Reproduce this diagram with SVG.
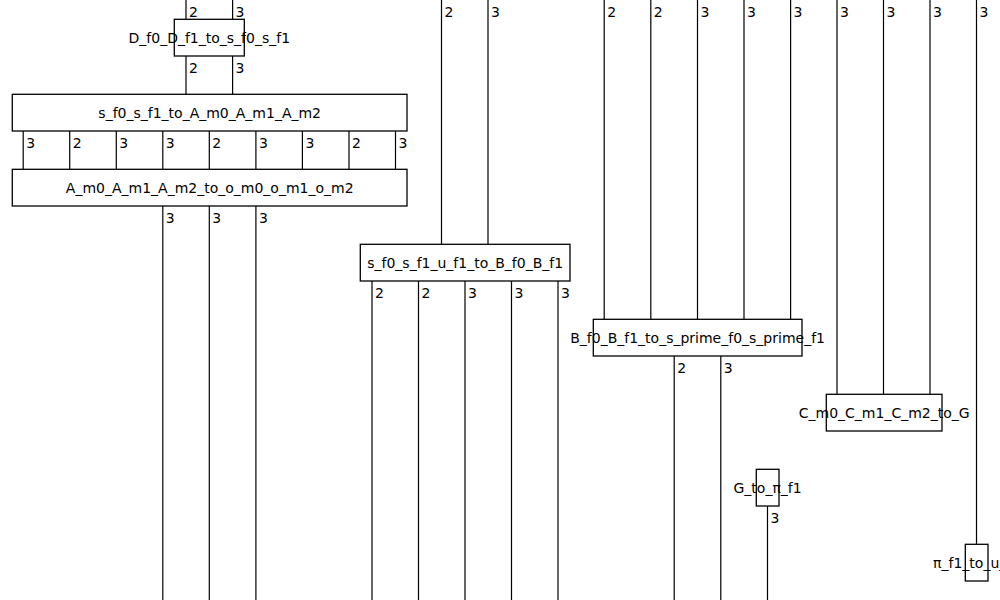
<svg xmlns="http://www.w3.org/2000/svg" width="1000" height="600" viewBox="0 0 1000 600">
<style>
.w{stroke:#000;stroke-width:1.2;fill:none}
.b{fill:#fff;stroke:#000;stroke-width:1.3}
.t{font-family:"DejaVu Sans",sans-serif;font-size:14px;fill:#000;text-anchor:middle}
.n{font-family:"DejaVu Sans",sans-serif;font-size:14px;fill:#000}
</style>
<rect width="1000" height="600" fill="#fff"/>
<g id="wires">
<path class="w" d="M186,0V19.3M232.6,0V19.3M186,56V94M232.6,56V94"/>
<path class="w" d="M23.2,131V169M69.7,131V169M116.3,131V169M162.8,131V169M209.3,131V169M255.9,131V169M302.4,131V169M349,131V169M395.5,131V169"/>
<path class="w" d="M162.8,206V600M209.3,206V600M255.9,206V600"/>
<path class="w" d="M441.5,0V244M488,0V244"/>
<path class="w" d="M372,281V600M418.5,281V600M465,281V600M511.5,281V600M558,281V600"/>
<path class="w" d="M604.2,0V319M650.8,0V319M697.5,0V319M744,0V319M790.6,0V319"/>
<path class="w" d="M674.2,356V600M720.8,356V600"/>
<path class="w" d="M837,0V394M883.5,0V394M930,0V394"/>
<path class="w" d="M767.5,506V600"/>
<path class="w" d="M976.5,0V544"/>
<g class="n">
<text x="189" y="16.7">2</text><text x="235.6" y="16.7">3</text>
<text x="189" y="72.7">2</text><text x="235.6" y="72.7">3</text>
<text x="26.2" y="147.7">3</text><text x="72.7" y="147.7">2</text><text x="119.3" y="147.7">3</text><text x="165.8" y="147.7">3</text><text x="212.3" y="147.7">2</text><text x="258.9" y="147.7">3</text><text x="305.4" y="147.7">3</text><text x="352" y="147.7">2</text><text x="398.5" y="147.7">3</text>
<text x="165.8" y="222.7">3</text><text x="212.3" y="222.7">3</text><text x="258.9" y="222.7">3</text>
<text x="444.5" y="16.7">2</text><text x="491" y="16.7">3</text>
<text x="375" y="297.7">2</text><text x="421.5" y="297.7">2</text><text x="468" y="297.7">3</text><text x="514.5" y="297.7">3</text><text x="561" y="297.7">3</text>
<text x="607.2" y="16.7">2</text><text x="653.8" y="16.7">2</text><text x="700.5" y="16.7">3</text><text x="747" y="16.7">3</text><text x="793.6" y="16.7">3</text>
<text x="677.2" y="372.7">2</text><text x="723.8" y="372.7">3</text>
<text x="840" y="16.7">3</text><text x="886.5" y="16.7">3</text><text x="933" y="16.7">3</text>
<text x="770.5" y="522.7">3</text>
<text x="979.5" y="16.7">3</text>
</g>
</g>
<g id="D_f0_D_f1_to_s_f0_s_f1"><rect class="b" x="174.3" y="19.3" width="70" height="36.7"/><text class="t" x="209.3" y="42.7">D_f0_D_f1_to_s_f0_s_f1</text></g>
<g id="s_f0_s_f1_to_A_m0_A_m1_A_m2"><rect class="b" x="12.3" y="94.3" width="394.7" height="36.7"/><text class="t" x="209.7" y="117.7">s_f0_s_f1_to_A_m0_A_m1_A_m2</text></g>
<g id="A_m0_A_m1_A_m2_to_o_m0_o_m1_o_m2"><rect class="b" x="12.3" y="169.3" width="394.7" height="36.7"/><text class="t" x="209.7" y="192.7">A_m0_A_m1_A_m2_to_o_m0_o_m1_o_m2</text></g>
<g id="s_f0_s_f1_u_f1_to_B_f0_B_f1"><rect class="b" x="360.3" y="244.3" width="209.7" height="36.7"/><text class="t" x="465.2" y="267.7">s_f0_s_f1_u_f1_to_B_f0_B_f1</text></g>
<g id="B_f0_B_f1_to_s_prime_f0_s_prime_f1"><rect class="b" x="593.3" y="319.3" width="208.7" height="36.7"/><text class="t" x="697.6" y="342.7">B_f0_B_f1_to_s_prime_f0_s_prime_f1</text></g>
<g id="C_m0_C_m1_C_m2_to_G"><rect class="b" x="826.3" y="394.3" width="115.7" height="36.7"/><text class="t" x="884.2" y="417.7">C_m0_C_m1_C_m2_to_G</text></g>
<g id="G_to_pi_f1"><rect class="b" x="756.3" y="469.3" width="22.7" height="36.7"/><text class="t" x="767.6" y="492.7">G_to_π_f1</text></g>
<g id="pi_f1_to_u_f1"><rect class="b" x="965.3" y="544.3" width="22.7" height="36.7"/><text class="t" x="976.6" y="567.7">π_f1_to_u_f1</text></g>
</svg>
